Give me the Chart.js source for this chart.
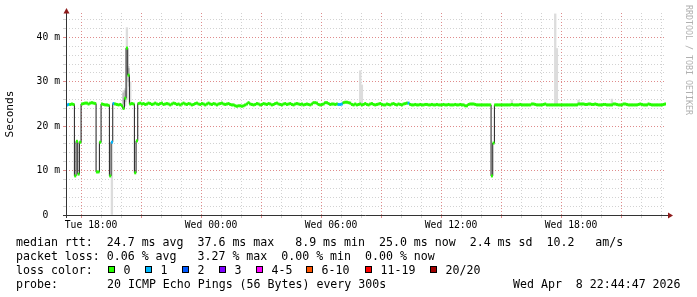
<!DOCTYPE html>
<html>
<head>
<meta charset="utf-8">
<script src="https://cdn.jsdelivr.net/npm/chart.js@4/dist/chart.umd.min.js"></script>
<style>
  html, body { margin: 0; padding: 0; background: #fff; }
  canvas { display: block; }
</style>
</head>
<body>
<canvas id="chart" width="697" height="297"></canvas>
<script>
// time axis in minutes since Tue 00:00
const startMin = 16 * 60 + 44 + 47 / 60;   // Tue 16:44:47
const endMin = startMin + 30 * 60;         // Wed 22:44:47
const firstStepMin = 16 * 60 + 45;         // first 5 minute sample
const stepMin = 5;

// median rtt (ms), one value per 5 minute step
const medianMs = [
  24.8, 24.9, 24.9, 25.0, 24.9, 8.8, 16.6, 9.2, 16.4, 25.0, 25.1, 25.2, 25.2, 25.0, 25.2, 25.3, 25.2, 25.1, 9.7, 9.7,
  16.4, 25.0, 24.9, 24.8, 24.8, 24.7, 8.8, 16.4, 25.1, 25.0, 24.9, 24.8, 24.9, 24.6, 24.0, 26.3, 37.6, 31.5, 25.0, 25.1,
  25.0, 9.5, 16.7, 25.1, 25.2, 25.0, 25.1, 24.9, 25.0, 25.2, 25.1, 24.9, 25.0, 25.2, 25.0, 24.9, 25.1, 25.2, 24.9, 25.0,
  25.1, 25.0, 24.8, 25.0, 25.2, 25.1, 24.9, 25.0, 24.8, 25.0, 25.2, 25.0, 24.9, 25.1, 25.0, 24.8, 24.9, 25.1, 25.2, 25.0,
  24.9, 25.1, 25.0, 24.8, 25.0, 25.2, 25.0, 24.9, 25.1, 25.0, 24.8, 25.0, 25.1, 25.2, 25.0, 24.9, 25.0, 25.1, 24.9, 24.8,
  24.8, 24.6, 24.5, 24.6, 24.6, 24.5, 24.6, 24.8, 25.0, 25.3, 25.0, 24.9, 24.8, 24.9, 25.1, 25.0, 24.8, 24.9, 25.1, 25.0,
  24.9, 25.1, 25.0, 24.8, 24.9, 25.1, 25.2, 25.0, 24.9, 24.8, 25.0, 25.1, 24.9, 25.0, 25.1, 24.9, 24.8, 25.0, 25.1, 25.0,
  24.9, 25.0, 24.8, 24.9, 25.0, 24.9, 24.8, 25.0, 25.3, 25.3, 25.2, 24.9, 24.8, 24.9, 25.0, 25.3, 25.3, 25.1, 24.9, 25.0,
  25.0, 24.9, 25.0, 24.9, 24.9, 25.0, 25.3, 25.4, 25.4, 25.3, 25.2, 24.9, 24.8, 25.0, 24.8, 24.9, 25.0, 24.8, 24.9, 25.1,
  24.9, 24.8, 25.0, 25.1, 24.9, 24.8, 24.9, 25.0, 25.1, 24.9, 24.8, 24.8, 25.0, 24.9, 24.8, 25.0, 25.1, 24.9, 24.8, 25.0,
  24.9, 24.8, 25.0, 25.1, 25.2, 25.2, 24.9, 24.8, 24.8, 24.9, 24.8, 24.8, 24.9, 24.8, 24.8, 24.9, 24.9, 24.8, 24.8, 24.9,
  24.8, 24.8, 24.9, 24.8, 24.8, 24.8, 24.9, 24.8, 24.8, 24.9, 24.8, 24.8, 24.8, 24.9, 24.8, 24.8, 24.9, 24.8, 24.8, 24.6,
  24.6, 24.9, 25.0, 25.0, 25.0, 24.9, 24.8, 24.8, 24.8, 24.8, 24.8, 24.8, 24.8, 24.8, 24.8, 8.8, 16.2, 24.8, 24.8, 24.8,
  24.8, 24.8, 24.8, 24.8, 24.8, 24.8, 24.8, 24.9, 24.8, 24.8, 24.8, 24.8, 24.9, 24.8, 24.8, 24.8, 24.8, 24.8, 24.8, 25.0,
  25.0, 24.9, 24.8, 24.8, 24.8, 24.8, 24.9, 25.0, 24.8, 24.8, 24.8, 24.8, 24.8, 24.8, 24.8, 24.8, 24.8, 24.8, 24.8, 24.8,
  24.8, 24.8, 24.8, 24.8, 24.8, 24.8, 24.8, 25.0, 25.0, 25.0, 25.0, 24.9, 24.9, 25.0, 25.0, 24.9, 24.9, 25.0, 24.9, 24.8,
  24.8, 24.8, 24.9, 24.9, 24.8, 24.8, 24.8, 24.8, 25.0, 25.0, 24.9, 24.8, 24.8, 24.8, 25.0, 25.0, 24.9, 24.8, 24.8, 24.8,
  24.8, 24.8, 24.8, 24.9, 25.0, 24.9, 24.8, 24.8, 24.8, 25.0, 24.9, 24.8, 24.8, 24.8, 24.8, 24.8, 24.8, 24.8, 24.9, 25.0
];
// steps that lost 1 of 20 pings (all others lost 0)
const lossOneSteps = [0, 1, 27, 28, 163, 164, 165, 205];

// smoke (spread of the 20 pings) where it shows outside the median band
const smokeSteps = [27, 34, 35, 36, 37, 38, 176, 177, 267, 293, 294, 307, 327];
const smokeLo = [0, 24.0, 24.6, 26.0, 29.0, 25.0, 24.9, 24.9, 24.9, 24.9, 24.9, 24.9, 24.9];
const smokeHi = [16.4, 28.0, 28.5, 42.2, 33.5, 30.0, 32.5, 29.3, 25.9, 45.3, 37.5, 25.9, 26.1];
const smokeCoreSteps = [34, 35, 37];
const smokeCoreLo = [25.0, 25.5, 30.0];
const smokeCoreHi = [27.5, 28.0, 33.0];

const xTickMinutes = [18 * 60, 24 * 60, 30 * 60, 36 * 60, 42 * 60];
const xTickText = ["Tue 18:00", "Wed 00:00", "Wed 06:00", "Wed 12:00", "Wed 18:00"];
const yTickValues = [0, 10, 20, 30, 40];
const yTickText = ["0  ", "10 m", "20 m", "30 m", "40 m"];

const lossColors = ["#26ff00", "#00b8ff", "#0059ff", "#7e00ff", "#ff00ff", "#ff5500", "#ff0000", "#a10000"];
const lossLabels = ["0", "1", "2", "3", "4-5", "6-10", "11-19", "20/20"];

const rttStats = ["24.7 ms avg", "37.6 ms max", "8.9 ms min", "25.0 ms now", "2.4 ms sd", "10.2", "am/s"];
const lossStats = ["0.06 % avg", "3.27 % max", "0.00 % min", "0.00 % now"];
const probeText = "20 ICMP Echo Pings (56 Bytes) every 300s";
const stampText = "Wed Apr  8 22:44:47 2026";

const MONO = '"DejaVu Sans Mono", monospace';

const stepStart = i => firstStepMin + i * stepMin;

const medianLine = medianMs.map((v, i) => ({ x: stepStart(i), y: v }));
medianLine.push({ x: stepStart(medianMs.length), y: medianMs[medianMs.length - 1] });
const bandPoints = medianMs.map((v, i) => ({ x: stepStart(i) + stepMin / 2, y: v }));
const bandColors = medianMs.map((v, i) => lossOneSteps.includes(i) ? lossColors[1] : lossColors[0]);
const smokeBars = smokeSteps.map((s, k) => ({ x: stepStart(s) + stepMin / 2, y: [smokeLo[k], smokeHi[k]] }));
const smokeCoreBars = smokeCoreSteps.map((s, k) => ({ x: stepStart(s) + stepMin / 2, y: [smokeCoreLo[k], smokeCoreHi[k]] }));

const gridColor = c => (c.tick && c.tick.major) ? "rgba(215,110,110,0.8)" : "rgba(195,195,195,0.75)";

const decor = {
  id: "decor",
  afterDraw(chart) {
    const ctx = chart.ctx;
    const a = chart.chartArea;
    ctx.save();
    // axes
    ctx.strokeStyle = "#333";
    ctx.lineWidth = 1;
    ctx.beginPath();
    ctx.moveTo(a.left + 0.5, a.bottom + 3);
    ctx.lineTo(a.left + 0.5, a.top - 1);
    ctx.moveTo(a.left - 3, a.bottom + 0.5);
    ctx.lineTo(a.right + 2, a.bottom + 0.5);
    ctx.stroke();
    // arrow heads
    ctx.fillStyle = "#8e1b1b";
    ctx.beginPath();
    ctx.moveTo(a.left + 0.5, a.top - 5);
    ctx.lineTo(a.left - 2.5, a.top + 0.5);
    ctx.lineTo(a.left + 3.5, a.top + 0.5);
    ctx.closePath();
    ctx.fill();
    ctx.beginPath();
    ctx.moveTo(a.right + 7, a.bottom + 0.5);
    ctx.lineTo(a.right + 2, a.bottom - 2.5);
    ctx.lineTo(a.right + 2, a.bottom + 3.5);
    ctx.closePath();
    ctx.fill();

    // watermark
    ctx.save();
    ctx.translate(688, 5);
    ctx.rotate(Math.PI / 2);
    ctx.font = "8.3px " + MONO;
    ctx.fillStyle = "#b0b0b0";
    ctx.textBaseline = "middle";
    ctx.textAlign = "left";
    ctx.fillText("RRDTOOL / TOBI OETIKER", 0, 0);
    ctx.restore();

    // legend
    ctx.font = "11.6px " + MONO;
    ctx.fillStyle = "#000";
    ctx.textBaseline = "alphabetic";
    ctx.textAlign = "left";
    ctx.fillText("median rtt:  " + rttStats[0] + "  " + rttStats[1] + "   " + rttStats[2] + "  " +
      rttStats[3] + "  " + rttStats[4] + "  " + rttStats[5] + "   " + rttStats[6], 16, 245.5);
    ctx.fillText("packet loss: " + lossStats[0] + "   " + lossStats[1] + "  " + lossStats[2] + "  " + lossStats[3], 16, 259.7);
    ctx.fillText("loss color:", 16, 273.9);
    const boxX = [108.5, 145.5, 182.5, 219.5, 256.5, 306.5, 365.5, 430.5];
    lossLabels.forEach((lab, k) => {
      ctx.fillStyle = lossColors[k];
      ctx.fillRect(boxX[k], 266.5, 6, 6);
      ctx.strokeStyle = "#000";
      ctx.strokeRect(boxX[k], 266.5, 6, 6);
      ctx.fillStyle = "#000";
      ctx.fillText(lab, boxX[k] + 15, 273.9);
    });
    ctx.fillText("probe:", 16, 288.1);
    ctx.fillText(probeText, 107, 288.1);
    ctx.fillText(stampText, 513, 288.1);
    ctx.restore();
  }
};

new Chart(document.getElementById("chart"), {
  type: "line",
  data: {
    datasets: [
      {
        label: "loss band",
        data: bandPoints,
        showLine: false,
        pointStyle: "line",
        pointRadius: 1,
        pointHoverRadius: 1,
        pointBorderWidth: 3,
        pointHoverBorderWidth: 3,
        pointBorderColor: bandColors,
        pointBackgroundColor: bandColors
      },
      {
        label: "median",
        data: medianLine,
        stepped: "before",
        borderColor: "#1c1c1c",
        borderWidth: 1,
        pointRadius: 0,
        fill: false
      },
      {
        type: "bar",
        label: "smoke core",
        data: smokeCoreBars,
        backgroundColor: "#b9b9b9",
        grouped: false,
        barPercentage: 1,
        categoryPercentage: 1,
        borderWidth: 0
      },
      {
        type: "bar",
        label: "smoke",
        data: smokeBars,
        backgroundColor: "#dcdcdc",
        grouped: false,
        barPercentage: 1,
        categoryPercentage: 1,
        borderWidth: 0
      }
    ]
  },
  options: {
    responsive: false,
    animation: false,
    devicePixelRatio: 1,
    layout: { padding: { left: 0, right: 31, top: 13, bottom: 60 } },
    plugins: { legend: { display: false }, tooltip: { enabled: false } },
    scales: {
      x: {
        type: "linear",
        min: startMin,
        max: endMin,
        offset: false,
        afterBuildTicks: s => {
          const t = [];
          for (let m = 17 * 60; m <= endMin; m += 60) t.push({ value: m, major: m % 180 === 0 });
          s.ticks = t;
        },
        afterFit: s => { s.height = 22; },
        ticks: {
          autoSkip: false,
          maxRotation: 0,
          padding: 2,
          color: "#000",
          font: { family: MONO, size: 9.72 },
          callback: v => {
            const k = xTickMinutes.indexOf(v);
            return k >= 0 ? xTickText[k] : "";
          }
        },
        grid: { color: gridColor, tickColor: gridColor, lineWidth: 1, tickLength: 3 },
        border: { display: false, dash: [1, 2] }
      },
      y: {
        min: 0,
        max: 45.5,
        afterBuildTicks: s => {
          const t = [];
          for (let v = 0; v <= 44; v += 2) t.push({ value: v, major: v % 10 === 0 });
          s.ticks = t;
        },
        afterFit: s => { s.width = 66; },
        ticks: {
          autoSkip: false,
          padding: 3,
          color: "#000",
          font: { family: MONO, size: 9.72 },
          callback: v => {
            const k = yTickValues.indexOf(v);
            return k >= 0 ? yTickText[k] : "";
          }
        },
        title: {
          display: true,
          text: "Seconds",
          color: "#000",
          font: { family: MONO, size: 11.1 },
          padding: { top: 3, bottom: 0 }
        },
        grid: { color: gridColor, tickColor: gridColor, lineWidth: 1, tickLength: 3 },
        border: { display: false, dash: [1, 2] }
      }
    }
  },
  plugins: [decor]
});
</script>
</body>
</html>
